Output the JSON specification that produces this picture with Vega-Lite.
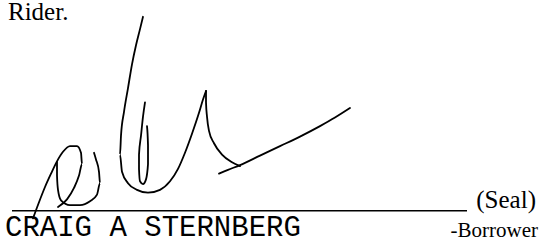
{
  "$schema": "https://vega.github.io/schema/vega-lite/v6.json",
  "width": 545,
  "height": 245,
  "autosize": {"type": "fit", "contains": "padding"},
  "padding": 0,
  "background": "white",
  "config": {"view": {"stroke": null}},
  "datasets": {
    "strokes": [
      {"s": "p1", "i": 0, "x": 33, "y": 217}, {"s": "p1", "i": 1, "x": 39, "y": 200}, {"s": "p1", "i": 2, "x": 45, "y": 184}, {"s": "p1", "i": 3, "x": 51, "y": 170}, {"s": "p1", "i": 4, "x": 57, "y": 157}, {"s": "p1", "i": 5, "x": 63, "y": 147}, {"s": "p1", "i": 6, "x": 70, "y": 141}, {"s": "p1", "i": 7, "x": 77, "y": 141}, {"s": "p1", "i": 8, "x": 81, "y": 148}, {"s": "p1", "i": 9, "x": 82, "y": 160}, {"s": "p1", "i": 10, "x": 79, "y": 172}, {"s": "p1", "i": 11, "x": 74, "y": 185}, {"s": "p1", "i": 12, "x": 67, "y": 197}, {"s": "p1", "i": 13, "x": 58, "y": 205},
      {"s": "p2", "i": 0, "x": 57, "y": 158}, {"s": "p2", "i": 1, "x": 57, "y": 172}, {"s": "p2", "i": 2, "x": 58, "y": 187}, {"s": "p2", "i": 3, "x": 61, "y": 198}, {"s": "p2", "i": 4, "x": 70, "y": 203}, {"s": "p2", "i": 5, "x": 80, "y": 203}, {"s": "p2", "i": 6, "x": 90, "y": 199}, {"s": "p2", "i": 7, "x": 97, "y": 192}, {"s": "p2", "i": 8, "x": 100, "y": 180}, {"s": "p2", "i": 9, "x": 99, "y": 168}, {"s": "p2", "i": 10, "x": 96, "y": 155}, {"s": "p2", "i": 11, "x": 94, "y": 148},
      {"s": "c1", "i": 0, "x": 143, "y": 5}, {"s": "c1", "i": 1, "x": 140, "y": 18}, {"s": "c1", "i": 2, "x": 136, "y": 35}, {"s": "c1", "i": 3, "x": 132, "y": 55}, {"s": "c1", "i": 4, "x": 128, "y": 80}, {"s": "c1", "i": 5, "x": 124, "y": 105}, {"s": "c1", "i": 6, "x": 121, "y": 130}, {"s": "c1", "i": 7, "x": 120, "y": 150}, {"s": "c1", "i": 8, "x": 122, "y": 168}, {"s": "c1", "i": 9, "x": 128, "y": 180}, {"s": "c1", "i": 10, "x": 137, "y": 187}, {"s": "c1", "i": 11, "x": 148, "y": 190}, {"s": "c1", "i": 12, "x": 160, "y": 187}, {"s": "c1", "i": 13, "x": 170, "y": 178}, {"s": "c1", "i": 14, "x": 178, "y": 165}, {"s": "c1", "i": 15, "x": 185, "y": 148}, {"s": "c1", "i": 16, "x": 192, "y": 128}, {"s": "c1", "i": 17, "x": 199, "y": 106}, {"s": "c1", "i": 18, "x": 203, "y": 92}, {"s": "c1", "i": 19, "x": 206, "y": 83},
      {"s": "c2", "i": 0, "x": 145, "y": 95}, {"s": "c2", "i": 1, "x": 143, "y": 110}, {"s": "c2", "i": 2, "x": 141, "y": 130}, {"s": "c2", "i": 3, "x": 139, "y": 150}, {"s": "c2", "i": 4, "x": 139, "y": 165}, {"s": "c2", "i": 5, "x": 140, "y": 178}, {"s": "c2", "i": 6, "x": 143, "y": 181}, {"s": "c2", "i": 7, "x": 146, "y": 176}, {"s": "c2", "i": 8, "x": 148, "y": 160}, {"s": "c2", "i": 9, "x": 148, "y": 140}, {"s": "c2", "i": 10, "x": 147, "y": 120},
      {"s": "l1", "i": 0, "x": 206, "y": 83}, {"s": "l1", "i": 1, "x": 206, "y": 95}, {"s": "l1", "i": 2, "x": 207, "y": 110}, {"s": "l1", "i": 3, "x": 209, "y": 125}, {"s": "l1", "i": 4, "x": 214, "y": 138}, {"s": "l1", "i": 5, "x": 222, "y": 150}, {"s": "l1", "i": 6, "x": 232, "y": 158}, {"s": "l1", "i": 7, "x": 240, "y": 162},
      {"s": "f1", "i": 0, "x": 219, "y": 170}, {"s": "f1", "i": 1, "x": 228, "y": 166}, {"s": "f1", "i": 2, "x": 240, "y": 161}, {"s": "f1", "i": 3, "x": 260, "y": 151}, {"s": "f1", "i": 4, "x": 280, "y": 141}, {"s": "f1", "i": 5, "x": 300, "y": 131}, {"s": "f1", "i": 6, "x": 320, "y": 120}, {"s": "f1", "i": 7, "x": 335, "y": 111}, {"s": "f1", "i": 8, "x": 350, "y": 101}
    ],
    "serifLeft": [
      {"t": "Rider.", "x": 8, "y": 8}
    ],
    "seal": [
      {"t": "(Seal)", "x": 536, "y": 206}
    ],
    "borrower": [
      {"t": "-Borrower", "x": 538, "y": 237}
    ],
    "mono": [
      {"t": "CRAIG A STERNBERG", "x": 5, "y": 236}
    ],
    "line": [
      {"x": 12, "x2": 467, "y": 209}
    ]
  },
  "layer": [
    {
      "data": {"name": "line"},
      "mark": {"type": "rule", "color": "black", "strokeWidth": 1.5},
      "encoding": {
        "x": {"field": "x", "type": "quantitative", "scale": {"domain": [0, 545], "nice": false, "zero": false}, "axis": null},
        "x2": {"field": "x2"},
        "y": {"field": "y", "type": "quantitative", "scale": {"domain": [0, 245], "reverse": true, "nice": false, "zero": false}, "axis": null}
      }
    },
    {
      "data": {"name": "strokes"},
      "mark": {"type": "line", "color": "black", "strokeWidth": 1.8, "interpolate": "monotone", "strokeCap": "round"},
      "encoding": {
        "x": {"field": "x", "type": "quantitative", "scale": {"domain": [0, 545], "nice": false, "zero": false}, "axis": null},
        "y": {"field": "y", "type": "quantitative", "scale": {"domain": [0, 245], "reverse": true, "nice": false, "zero": false}, "axis": null},
        "detail": {"field": "s", "type": "nominal"},
        "order": {"field": "i", "type": "quantitative"}
      }
    },
    {
      "data": {"name": "serifLeft"},
      "mark": {"type": "text", "font": "Liberation Serif", "fontSize": 25, "align": "left", "baseline": "alphabetic", "color": "black"},
      "encoding": {
        "x": {"field": "x", "type": "quantitative", "scale": {"domain": [0, 545], "nice": false, "zero": false}, "axis": null},
        "y": {"field": "y", "type": "quantitative", "scale": {"domain": [0, 245], "reverse": true, "nice": false, "zero": false}, "axis": null},
        "text": {"field": "t"}
      }
    },
    {
      "data": {"name": "seal"},
      "mark": {"type": "text", "font": "Liberation Serif", "fontSize": 25, "align": "right", "baseline": "alphabetic", "color": "black"},
      "encoding": {
        "x": {"field": "x", "type": "quantitative", "scale": {"domain": [0, 545], "nice": false, "zero": false}, "axis": null},
        "y": {"field": "y", "type": "quantitative", "scale": {"domain": [0, 245], "reverse": true, "nice": false, "zero": false}, "axis": null},
        "text": {"field": "t"}
      }
    },
    {
      "data": {"name": "borrower"},
      "mark": {"type": "text", "font": "Liberation Serif", "fontSize": 21, "align": "right", "baseline": "alphabetic", "color": "black"},
      "encoding": {
        "x": {"field": "x", "type": "quantitative", "scale": {"domain": [0, 545], "nice": false, "zero": false}, "axis": null},
        "y": {"field": "y", "type": "quantitative", "scale": {"domain": [0, 245], "reverse": true, "nice": false, "zero": false}, "axis": null},
        "text": {"field": "t"}
      }
    },
    {
      "data": {"name": "mono"},
      "mark": {"type": "text", "font": "Liberation Mono", "fontSize": 29, "align": "left", "baseline": "alphabetic", "color": "black"},
      "encoding": {
        "x": {"field": "x", "type": "quantitative", "scale": {"domain": [0, 545], "nice": false, "zero": false}, "axis": null},
        "y": {"field": "y", "type": "quantitative", "scale": {"domain": [0, 245], "reverse": true, "nice": false, "zero": false}, "axis": null},
        "text": {"field": "t"}
      }
    }
  ]
}
